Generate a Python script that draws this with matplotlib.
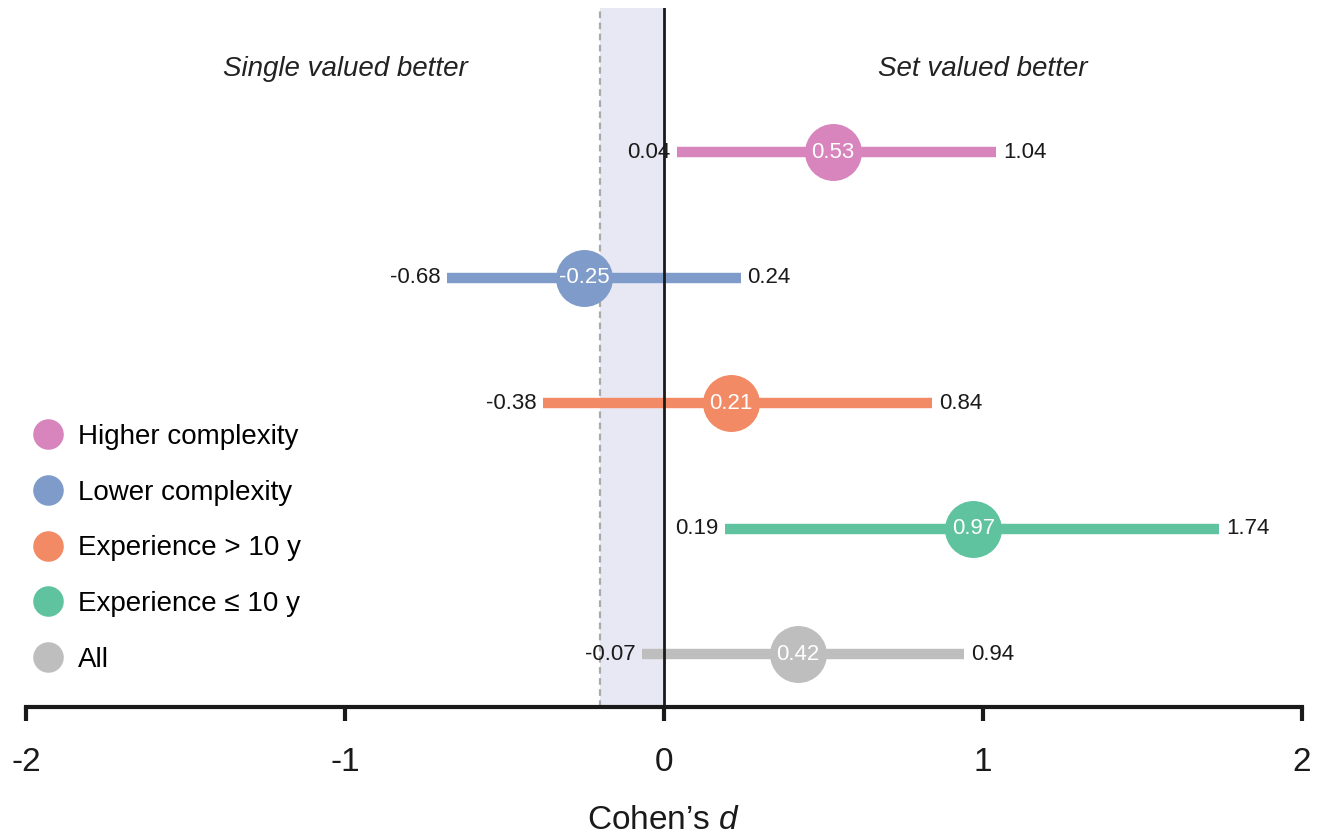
"""Forest plot: Cohen's d with confidence intervals per subgroup"""

import matplotlib
matplotlib.use('Agg')
import matplotlib.pyplot as plt
from matplotlib.lines import Line2D

plt.rcParams['font.family'] = ['Liberation Sans', 'DejaVu Sans']
plt.rcParams['mathtext.fontset'] = 'custom'
plt.rcParams['mathtext.it'] = 'Liberation Sans:italic'
plt.rcParams['mathtext.rm'] = 'Liberation Sans'

# данные
groups = ['Higher complexity', 'Lower complexity', 'Experience > 10 y',
          'Experience ≤ 10 y', 'All']
effect = [0.53, -0.25, 0.21, 0.97, 0.42]
ci_low = [0.04, -0.68, -0.38, 0.19, -0.07]
ci_high = [1.04, 0.24, 0.84, 1.74, 0.94]
colors = ['#d884bd', '#7f9bca', '#f38a66', '#5fc3a0', '#bebebe']

xticks = [-2, -1, 0, 1, 2]
xtick_labels = ['-2', '-1', '0', '1', '2']
threshold = -0.2  # граница затенённой зоны

fig = plt.figure(figsize=(13.29, 8.35), dpi=100)
ax = fig.add_axes([26 / 1329, 1 - 707 / 835, (1302 - 26) / 1329, (707 - 8) / 835])

n = len(groups)
ys = [n - i for i in range(n)]  # сверху вниз

ax.axvspan(threshold, 0, color='#e8e8f4', zorder=0, lw=0)
ax.axvline(threshold, color='#aaaaaa', lw=1.6, ls=(0, (3, 2)), zorder=1)
ax.axvline(0, color='#1a1a1a', lw=2.0, zorder=3)

for y, d, lo, hi, c in zip(ys, effect, ci_low, ci_high, colors):
    ax.plot([lo, hi], [y, y], color=c, lw=7.5, solid_capstyle='butt', zorder=2)
    ax.plot(d, y, 'o', color=c, markersize=41, markeredgewidth=0, zorder=4)
    ax.text(d, y, f'{d:.2f}', color='white', ha='center', va='center',
            fontsize=16, zorder=5)
    ax.text(lo - 0.02, y, f'{lo:.2f}', ha='right', va='center', fontsize=16,
            color='#1a1a1a')
    ax.text(hi + 0.022, y, f'{hi:.2f}', ha='left', va='center', fontsize=16,
            color='#1a1a1a')

ax.text(-1, 5.66, 'Single valued better', ha='center', va='center',
        fontsize=20, style='italic', color='#222222')
ax.text(1, 5.66, 'Set valued better', ha='center', va='center',
        fontsize=20, style='italic', color='#222222')

ax.set_xlim(-2, 2)
ax.set_ylim(0.58, 6.15)
ax.set_yticks([])
for s in ['top', 'right', 'left']:
    ax.spines[s].set_visible(False)
ax.spines['bottom'].set_linewidth(3)
ax.spines['bottom'].set_color('#1a1a1a')
ax.set_xticks(xticks)
ax.set_xticklabels(xtick_labels)
ax.tick_params(axis='x', length=10, width=3, color='#1a1a1a', labelsize=24,
               pad=19, labelcolor='#1a1a1a')
ax.set_xlabel("Cohen’s $\\it{d}$", fontsize=24, labelpad=19, color='#1a1a1a')

handles = [Line2D([], [], ls='', marker='o', markersize=22, color=c,
                  markeredgewidth=0) for c in colors]
ax.legend(handles, groups, loc='upper left', bbox_to_anchor=(12 / 1329, 1 - 410 / 835),
          bbox_transform=fig.transFigure, frameon=False, fontsize=20,
          handletextpad=0.28, labelspacing=1.07, handlelength=1.6, borderpad=0)

fig.savefig('out.png', dpi=100)
